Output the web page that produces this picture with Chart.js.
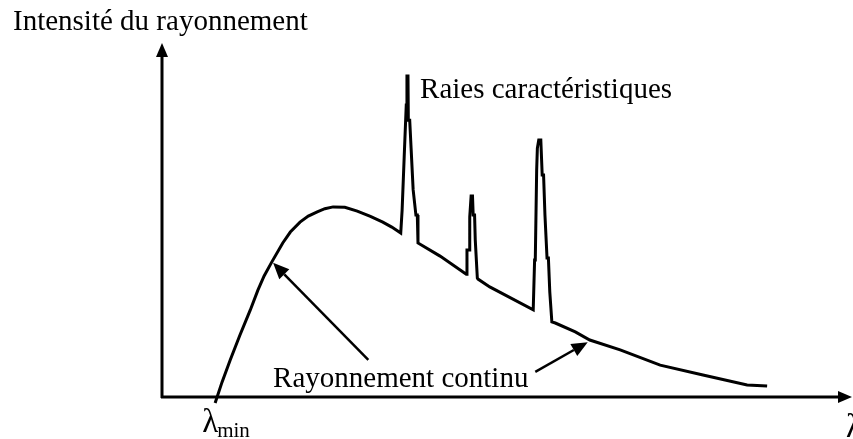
<!DOCTYPE html>
<html>
<head>
<meta charset="utf-8">
<script src="https://cdn.jsdelivr.net/npm/chart.js@4/dist/chart.umd.min.js"></script>
<style>
    body { margin: 0; background: #fff; }
    canvas { display: block; }
</style>
</head>
<body>
<canvas id="GraficoSpectre" width="853" height="439"></canvas>
<script>
// Spectre d'émission X : fond continu + raies caractéristiques (unités arbitraires)
var lambdas = [
    7.7, 8.7, 9.9, 11.3, 12.8, 13.9, 14.8, 15.9, 17.5, 18.6, 20.0, 21.2, 22.5, 23.6, 24.8, 26.5, 28.3, 30.2, 32.0, 33.3, 34.6,
    34.8, 34.9, 35.1, 35.2, 35.4, 35.5, 35.65, 35.7, 35.9, 36.1, 36.2, 36.4, 36.5, 36.8, 37.0, 37.1,
    40.3, 44.1,
    44.2, 44.5, 44.6, 44.8, 45.0, 45.1, 45.3, 45.4, 45.7,
    45.8, 47.5, 53.8,
    54.0, 54.1, 54.3, 54.4, 54.6, 54.9, 55.1, 55.3, 55.5, 55.8, 56.0, 56.2, 56.5,
    57.0, 59.9, 62.0, 66.4, 72.2, 78.4, 84.8, 87.7
];
var intensites = [
    -1.7, 4.2, 10.5, 17.5, 24.6, 30.2, 34.2, 38.1, 43.5, 46.6, 49.4, 51.1, 52.3, 53.2, 53.7, 53.6, 52.5, 51.0, 49.4, 48.0, 46.3,
    52.8, 52.8, 67.8, 67.8, 82.5, 90.7, 90.7, 78.2, 78.2, 70.3, 70.3, 58.5, 58.5, 51.4, 51.4, 43.5,
    39.8, 34.7,
    41.5, 41.5, 50.8, 56.8, 56.8, 51.4, 51.4, 44.4, 33.6,
    33.3, 31.1, 24.6,
    38.7, 38.7, 64.1, 70.3, 72.6, 72.6, 62.7, 62.7, 51.4, 39.3, 39.3, 29.7, 21.2,
    20.9, 18.4, 16.1, 13.3, 9.0, 6.2, 3.4, 3.1
];

var titreAxeY = "Intensité du rayonnement";
var titreAxeX = "λ";
var etiquetteMin = ["λ", "min"];
var etiquetteRaies = "Raies caractéristiques";
var etiquetteContinu = "Rayonnement continu";

var police = '29px "Liberation Serif", "Times New Roman", serif';

function PrendrePoints(xs, ys) {
    var pontos = [];
    var indice = 0;
    while (indice < xs.length) {
        pontos.push({ x: xs[indice], y: ys[indice] });
        indice++;
    }
    return pontos;
}

function Fleche(ctx, x1, y1, x2, y2, largeur, tete, demi) {
    var ang = Math.atan2(y2 - y1, x2 - x1);
    var bx = x2 - Math.cos(ang) * tete;
    var by = y2 - Math.sin(ang) * tete;
    ctx.lineWidth = largeur;
    ctx.beginPath();
    ctx.moveTo(x1, y1);
    ctx.lineTo(bx, by);
    ctx.stroke();
    ctx.beginPath();
    ctx.moveTo(x2, y2);
    ctx.lineTo(bx + Math.sin(ang) * demi, by - Math.cos(ang) * demi);
    ctx.lineTo(bx - Math.sin(ang) * demi, by + Math.cos(ang) * demi);
    ctx.closePath();
    ctx.fill();
}

var decor = {
    id: 'decorSpectre',
    afterDatasetsDraw: function (chart) {
        var ctx = chart.ctx;
        var zone = chart.chartArea;
        var sx = chart.scales.x;
        var sy = chart.scales.y;
        function px(v) { return sx.getPixelForValue(v); }
        function py(v) { return sy.getPixelForValue(v); }

        ctx.save();
        ctx.strokeStyle = '#000';
        ctx.fillStyle = '#000';
        ctx.lineCap = 'butt';

        // axes avec flèches
        Fleche(ctx, zone.left, zone.bottom + 1, zone.left, zone.top, 3, 14, 6);
        Fleche(ctx, zone.left - 1, zone.bottom, zone.right, zone.bottom, 3, 14, 6);

        // flèches vers le fond continu
        Fleche(ctx, px(29.9), py(10.5), px(16.1), py(37.9), 2.5, 16, 7);
        Fleche(ctx, px(54.1), py(7.1), px(61.7), py(15.5), 2.5, 16, 7);

        // textes
        ctx.font = police;
        ctx.textBaseline = 'alphabetic';
        ctx.textAlign = 'left';
        ctx.fillText(titreAxeY, zone.left - 149, zone.top - 13);
        ctx.fillText(etiquetteRaies, px(37.4), py(84.5));
        ctx.fillText(etiquetteContinu, px(16.1), py(2.8));

        ctx.font = '33px "Liberation Serif", serif';
        ctx.fillText(titreAxeX, zone.right - 6, zone.bottom + 40);

        var x0 = px(lambdas[0]) - 13;
        ctx.fillText(etiquetteMin[0], x0, zone.bottom + 35);
        var l = ctx.measureText(etiquetteMin[0]).width;
        ctx.font = '21px "Liberation Serif", serif';
        ctx.fillText(etiquetteMin[1], x0 + l - 1, zone.bottom + 40);
        ctx.restore();
    }
};

var ctx = document.getElementById('GraficoSpectre').getContext('2d');

var grafico = new Chart(ctx, {
    type: 'scatter',
    data: {
        datasets: [{
            label: "Intensité",
            data: PrendrePoints(lambdas, intensites),
            showLine: true,
            borderColor: '#000',
            borderWidth: 3,
            borderJoinStyle: 'miter',
            pointRadius: 0,
            fill: false,
            tension: 0,
            clip: false
        }]
    },
    options: {
        responsive: false,
        animation: false,
        layout: {
            padding: { left: 162, right: 1, top: 43, bottom: 42 }
        },
        scales: {
            x: { type: 'linear', min: 0, max: 100, display: false },
            y: { type: 'linear', min: 0, max: 100, display: false }
        },
        plugins: {
            legend: { display: false },
            tooltip: { enabled: false }
        }
    },
    plugins: [decor]
});
</script>
</body>
</html>
